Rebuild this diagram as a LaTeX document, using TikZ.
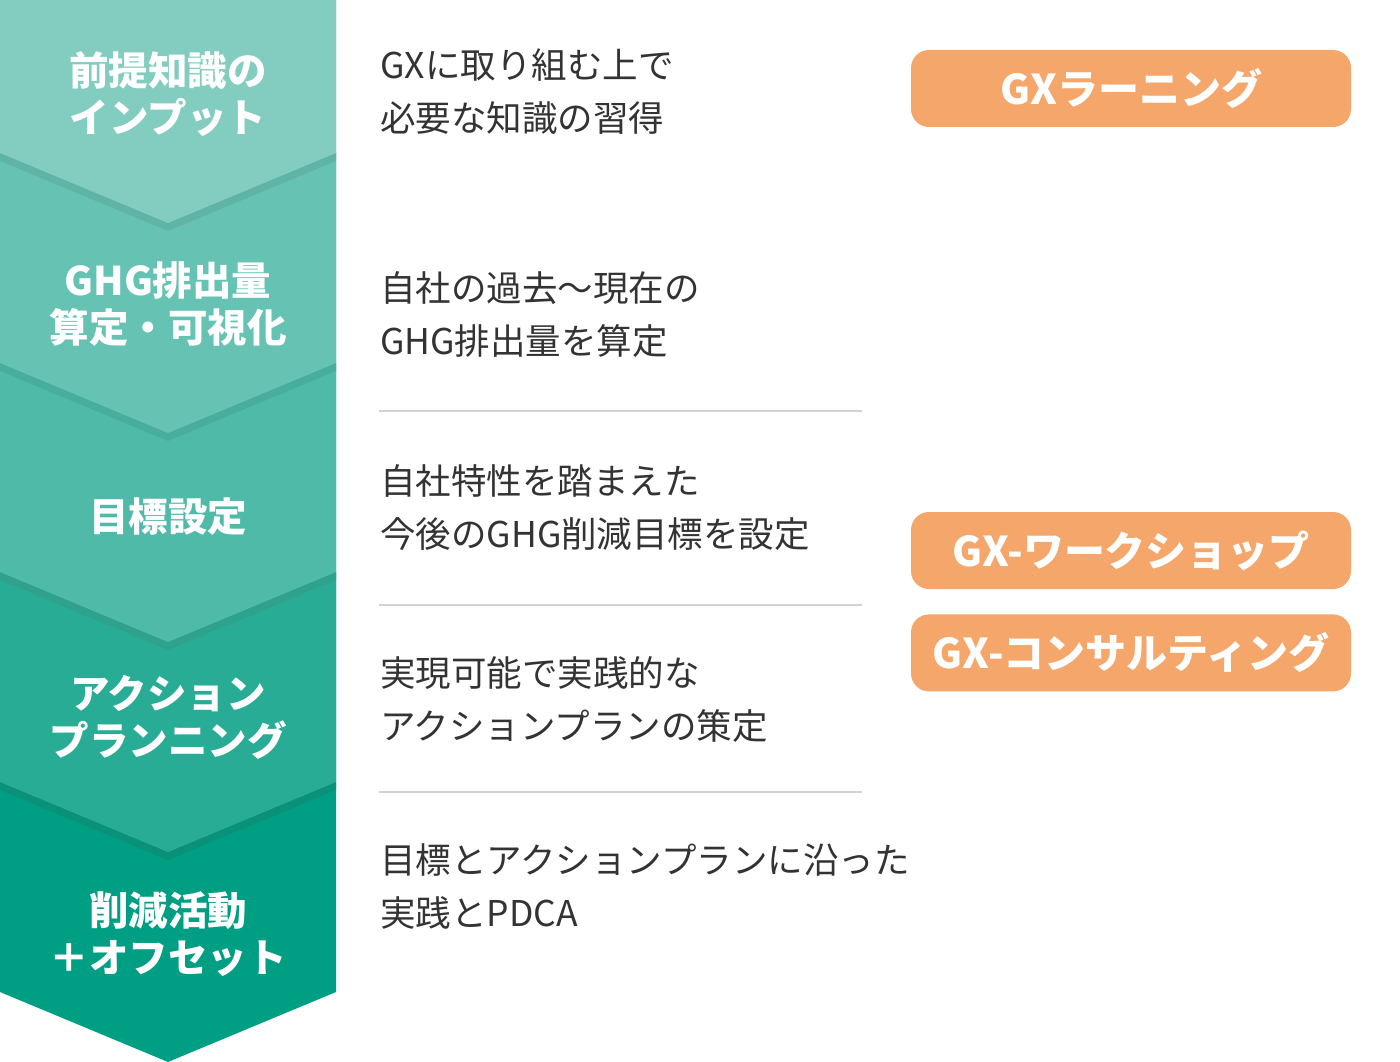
\documentclass[tikz,border=0pt]{standalone}
\usepackage{fontspec}
\setmainfont{Noto Sans CJK JP}
\usepackage{tikz}
\usetikzlibrary{positioning}

\definecolor{stepA}{HTML}{82CDC0}
\definecolor{stepB}{HTML}{66C3B4}
\definecolor{stepC}{HTML}{4FBAA8}
\definecolor{stepD}{HTML}{28AC96}
\definecolor{stepE}{HTML}{009E83}
\definecolor{shadeA}{HTML}{5FB4A5}
\definecolor{shadeB}{HTML}{48AD9C}
\definecolor{shadeC}{HTML}{2FA28D}
\definecolor{shadeD}{HTML}{0A9179}
\definecolor{btnorange}{HTML}{F5A66A}
\definecolor{txtgray}{HTML}{333333}
\definecolor{rulegray}{HTML}{D2D2D2}

\begin{document}
\begin{tikzpicture}[
        x=1pt, y=-1pt,
        steplabel/.style={text=white, font=\fontsize{39.5}{47}\selectfont\bfseries, align=center, inner sep=0pt},
        desc/.style={text=txtgray, font=\fontsize{35.5}{53}\selectfont, align=left, anchor=west, inner sep=0pt},
        service/.style={fill=btnorange, rounded corners=18pt, minimum width=440pt, minimum height=77pt,
                        text=white, font=\fontsize{41}{48}\selectfont\bfseries, inner sep=0pt},
        divider/.style={draw=rulegray, line width=2pt},
    ]
    \useasboundingbox (0,0) rectangle (1400,1062);

    %Draw the chevrons, bottom one first so each upper step lies over the next
    \fill [stepE] (0,782) -- (0,992) -- (168,1062) -- (336,992) -- (336,782) -- cycle;
    \foreach \top/\edge/\band/\shade in {572/782/stepD/shadeD, 363/572/stepC/shadeC, 153/363/stepB/shadeB, 0/153/stepA/shadeA}
    {
        \fill [\shade] (0,\top) -- (0,\edge+8) -- (168,\edge+78) -- (336,\edge+8) -- (336,\top) -- cycle;
        \fill [\band] (0,\top) -- (0,\edge) -- (168,\edge+70) -- (336,\edge) -- (336,\top) -- cycle;
    }

    %Step labels
    \node [steplabel] (input) at (168,94) {前提知識の\\インプット};
    \node [steplabel] (calc) at (168,304) {GHG排出量\\算定・可視化};
    \node [steplabel] (target) at (168,517) {目標設定};
    \node [steplabel] (plan) at (168,717) {アクション\\プランニング};
    \node [steplabel] (reduce) at (168,934) {削減活動\\＋オフセット};

    %Descriptions
    \node [desc] (inputtxt) at (380,92) {GXに取り組む上で\\必要な知識の習得};
    \node [desc] (calctxt) at (380,315) {自社の過去〜現在の\\GHG排出量を算定};
    \node [desc] (targettxt) at (380,508) {自社特性を踏まえた\\今後のGHG削減目標を設定};
    \node [desc] (plantxt) at (380,700) {実現可能で実践的な\\アクションプランの策定};
    \node [desc] (reducetxt) at (380,887) {目標とアクションプランに沿った\\実践とPDCA};

    %Dividers
    \foreach \y in {411,605,792}
        \draw [divider] (379,\y) -- (862,\y);

    %Services
    \node [service] (learning) at (1131,88.5) {GXラーニング};
    \node [service] (workshop) at (1131,550.5) {GX-ワークショップ};
    \node [service, below=25pt of workshop] (consulting) {GX-コンサルティング};
\end{tikzpicture}
\end{document}
